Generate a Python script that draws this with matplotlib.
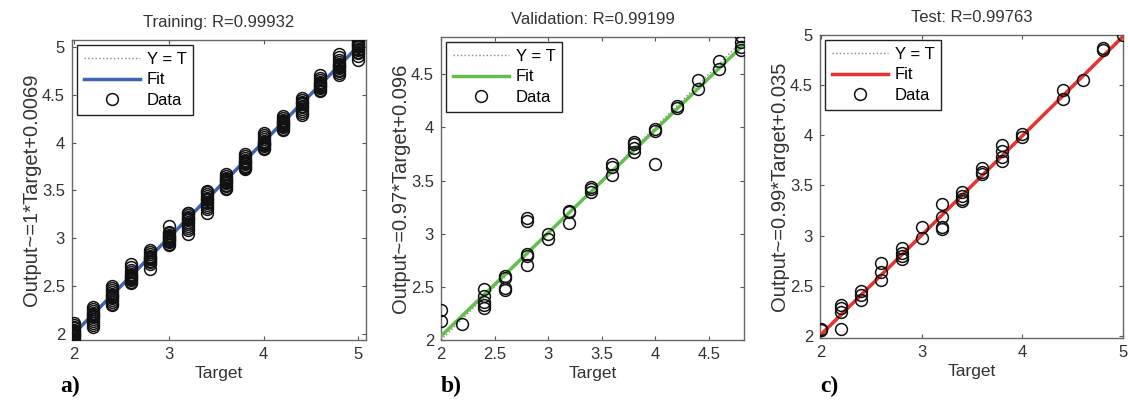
import numpy as np
import matplotlib.pyplot as plt

plt.rcParams['font.family'] = ['Liberation Sans', 'DejaVu Sans']

# a) training: targets and the outputs read at each target
train_target = [2.0, 2.2, 2.4, 2.6, 2.8, 3.0, 3.2, 3.4, 3.6, 3.8, 4.0, 4.2, 4.4, 4.6, 4.8, 5.0]
train_output = [
    [1.93, 1.95, 1.97, 1.98, 1.99, 2.00, 2.01, 2.02, 2.03, 2.04, 2.06, 2.08, 2.10, 2.12],
    [2.08, 2.10, 2.12, 2.14, 2.16, 2.18, 2.19, 2.20, 2.21, 2.22, 2.24, 2.26, 2.28],
    [2.30, 2.32, 2.34, 2.36, 2.38, 2.39, 2.40, 2.41, 2.42, 2.44, 2.46, 2.48, 2.50],
    [2.53, 2.55, 2.57, 2.58, 2.59, 2.60, 2.61, 2.62, 2.63, 2.65, 2.67, 2.70, 2.73],
    [2.68, 2.73, 2.75, 2.76, 2.78, 2.79, 2.80, 2.81, 2.82, 2.84, 2.86, 2.88],
    [2.93, 2.94, 2.96, 2.97, 2.98, 2.99, 3.00, 3.01, 3.02, 3.04, 3.06, 3.07, 3.13],
    [3.05, 3.09, 3.11, 3.13, 3.15, 3.17, 3.19, 3.20, 3.21, 3.22, 3.24, 3.26, 3.27],
    [3.27, 3.31, 3.33, 3.35, 3.37, 3.38, 3.40, 3.41, 3.42, 3.44, 3.46, 3.48, 3.49],
    [3.52, 3.53, 3.55, 3.56, 3.58, 3.59, 3.60, 3.61, 3.62, 3.63, 3.65, 3.67],
    [3.72, 3.73, 3.75, 3.76, 3.78, 3.79, 3.80, 3.81, 3.82, 3.84, 3.86, 3.88],
    [3.93, 3.94, 3.96, 3.97, 3.98, 3.99, 4.00, 4.01, 4.02, 4.04, 4.06, 4.08, 4.10],
    [4.13, 4.14, 4.16, 4.17, 4.18, 4.19, 4.20, 4.21, 4.22, 4.24, 4.26, 4.28],
    [4.29, 4.31, 4.33, 4.35, 4.37, 4.38, 4.40, 4.41, 4.42, 4.44, 4.46],
    [4.54, 4.55, 4.57, 4.58, 4.59, 4.60, 4.61, 4.62, 4.63, 4.65, 4.67, 4.70],
    [4.71, 4.73, 4.75, 4.76, 4.78, 4.79, 4.80, 4.81, 4.82, 4.84, 4.86, 4.89, 4.92],
    [4.86, 4.90, 4.93, 4.95, 4.97, 4.98, 5.00, 5.01, 5.02, 5.03, 5.04, 5.05, 5.07],
]

# b) validation
val_target = [2.0, 2.2, 2.4, 2.6, 2.8, 3.0, 3.2, 3.4, 3.6, 3.8, 4.0, 4.2, 4.4, 4.6, 4.8]
val_output = [
    [2.28, 2.18],
    [2.15],
    [2.48, 2.41, 2.36, 2.33, 2.30],
    [2.60, 2.58, 2.49, 2.47],
    [3.15, 3.12, 2.81, 2.79, 2.71],
    [3.00, 2.95],
    [3.21, 3.20, 3.10],
    [3.44, 3.42, 3.39],
    [3.66, 3.63, 3.55],
    [3.86, 3.84, 3.81, 3.77],
    [3.98, 3.97, 3.66],
    [4.20, 4.18],
    [4.45, 4.36],
    [4.62, 4.55],
    [4.86, 4.80, 4.76, 4.73],
]

# c) test
test_target = [2.0, 2.2, 2.4, 2.6, 2.8, 3.0, 3.2, 3.4, 3.6, 3.8, 4.0, 4.4, 4.6, 4.8, 5.0]
test_output = [
    [2.07, 2.06],
    [2.31, 2.28, 2.24, 2.07],
    [2.45, 2.41, 2.36],
    [2.73, 2.64, 2.56],
    [2.88, 2.83, 2.80, 2.77],
    [3.09, 2.98],
    [3.32, 3.19, 3.09, 3.07],
    [3.44, 3.40, 3.37, 3.35],
    [3.67, 3.63, 3.61],
    [3.90, 3.84, 3.78, 3.74],
    [4.01, 3.98],
    [4.45, 4.36],
    [4.55],
    [4.87, 4.85],
    [5.00],
]

titles = ['Training: R=0.99932', 'Validation: R=0.99199', 'Test: R=0.99763']
ylabels = ['Output~=1*Target+0.0069', 'Output~=0.97*Target+0.096', 'Output~=0.99*Target+0.035']
fit_slope = [1.0, 0.97, 0.99]
fit_icpt = [0.0069, 0.096, 0.035]
fit_color = ['#3f63b4', '#62bf4e', '#e8322b']
letters = ['a)', 'b)', 'c)']

# axes boxes in pixels: left, right, top, bottom
W, H = 1128, 403
boxes = [(72, 366, 40, 340), (441, 744, 37, 340), (820, 1123, 35, 338)]
xlims = [(1.98, 5.08), (2.0, 4.83), (1.99, 5.0)]
ylims = [(1.94, 5.07), (2.0, 4.85), (1.98, 5.0)]
xticks = [[2, 3, 4, 5], [2, 2.5, 3, 3.5, 4, 4.5], [2, 3, 4, 5]]
yticks = [[2, 2.5, 3, 3.5, 4, 4.5, 5], [2, 2.5, 3, 3.5, 4, 4.5], [2, 2.5, 3, 3.5, 4, 4.5, 5]]
letter_x = [60, 441, 820]

sets = [(train_target, train_output), (val_target, val_output), (test_target, test_output)]

fig = plt.figure(figsize=(W / 100, H / 100), dpi=100)
fig.patch.set_facecolor('white')

for k in range(3):
    l, r, t, b = boxes[k]
    ax = fig.add_axes([l / W, 1 - b / H, (r - l) / W, (b - t) / H])
    tx, outs = sets[k]
    xs = []
    ys = []
    for tv, ov in zip(tx, outs):
        for o in ov:
            xs.append(tv)
            ys.append(o)
    xl = np.array(xlims[k])
    ax.plot(xl, xl, ':', color='#888888', lw=1, label='Y = T', zorder=2)
    ax.plot(xl, fit_slope[k] * xl + fit_icpt[k], '-', color=fit_color[k], lw=2.5, label='Fit', zorder=3)
    ax.plot(xs, ys, 'o', mfc='none', mec='#111111', mew=1.1, ms=8.5, label='Data', zorder=4)
    ax.set_xlim(xlims[k])
    ax.set_ylim(ylims[k])
    ax.set_xticks(xticks[k])
    ax.set_yticks(yticks[k])
    ax.set_xticklabels([('%g' % v) for v in xticks[k]])
    ax.set_yticklabels([('%g' % v) for v in yticks[k]])
    ax.tick_params(direction='in', length=3, width=0.8, top=True, right=True,
                   labelsize=12, colors='#555555', labelcolor='#333333', pad=5)
    for s in ax.spines.values():
        s.set_color('#666666')
        s.set_linewidth(1.0)
    ax.set_title(titles[k], fontsize=12, color='#333333', pad=9)
    ax.set_xlabel('Target', fontsize=12.5, color='#333333', labelpad=3)
    ax.set_ylabel(ylabels[k], fontsize=14.5, color='#333333', labelpad=1)
    leg = ax.legend(loc='upper left', fontsize=12, fancybox=False, framealpha=1,
                    edgecolor='#222222', handlelength=3.4, handletextpad=0.4,
                    borderpad=0.4, labelspacing=0.35, borderaxespad=0.3,
                    markerfirst=True)
    leg.get_frame().set_linewidth(1.0)
    fig.text(letter_x[k] / W, 1 - 386 / H, letters[k], fontsize=17, fontweight='bold',
             family='Liberation Serif', va='center', ha='left')

fig.savefig('out.png', dpi=100)
